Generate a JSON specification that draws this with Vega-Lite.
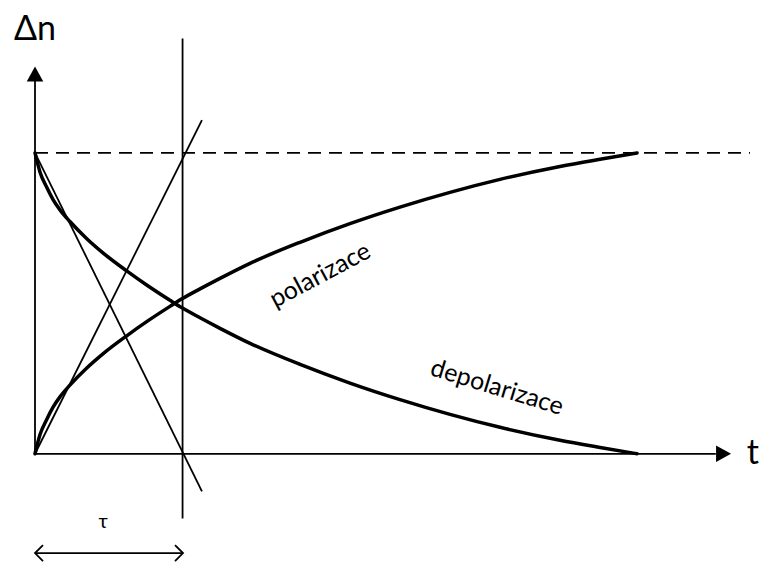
{
  "$schema": "https://vega.github.io/schema/vega-lite/v6.json",
  "width": 763,
  "height": 565,
  "autosize": {"type": "fit", "contains": "padding"},
  "padding": 0,
  "background": "white",
  "config": {"view": {"stroke": null}},
  "datasets": {
    "curves": [
      {"curve": "polarizace", "t": 0.0, "v": 0.0},
      {"curve": "polarizace", "t": 0.034, "v": 0.064},
      {"curve": "polarizace", "t": 0.08, "v": 0.115},
      {"curve": "polarizace", "t": 0.122, "v": 0.155},
      {"curve": "polarizace", "t": 0.17, "v": 0.19},
      {"curve": "polarizace", "t": 0.236, "v": 0.228},
      {"curve": "polarizace", "t": 0.35, "v": 0.285},
      {"curve": "polarizace", "t": 0.459, "v": 0.332},
      {"curve": "polarizace", "t": 0.622, "v": 0.393},
      {"curve": "polarizace", "t": 0.757, "v": 0.44},
      {"curve": "polarizace", "t": 0.912, "v": 0.49},
      {"curve": "polarizace", "t": 0.993, "v": 0.515},
      {"curve": "polarizace", "t": 1.115, "v": 0.548},
      {"curve": "polarizace", "t": 1.25, "v": 0.583},
      {"curve": "polarizace", "t": 1.453, "v": 0.633},
      {"curve": "polarizace", "t": 1.791, "v": 0.703},
      {"curve": "polarizace", "t": 2.128, "v": 0.765},
      {"curve": "polarizace", "t": 2.466, "v": 0.82},
      {"curve": "polarizace", "t": 2.804, "v": 0.869},
      {"curve": "polarizace", "t": 3.142, "v": 0.912},
      {"curve": "polarizace", "t": 3.547, "v": 0.955},
      {"curve": "polarizace", "t": 3.818, "v": 0.979},
      {"curve": "polarizace", "t": 4.068, "v": 1.0},
      {"curve": "depolarizace", "t": 0.0, "v": 1.0},
      {"curve": "depolarizace", "t": 0.034, "v": 0.936},
      {"curve": "depolarizace", "t": 0.08, "v": 0.885},
      {"curve": "depolarizace", "t": 0.122, "v": 0.845},
      {"curve": "depolarizace", "t": 0.17, "v": 0.81},
      {"curve": "depolarizace", "t": 0.236, "v": 0.772},
      {"curve": "depolarizace", "t": 0.35, "v": 0.715},
      {"curve": "depolarizace", "t": 0.459, "v": 0.668},
      {"curve": "depolarizace", "t": 0.622, "v": 0.607},
      {"curve": "depolarizace", "t": 0.757, "v": 0.56},
      {"curve": "depolarizace", "t": 0.912, "v": 0.51},
      {"curve": "depolarizace", "t": 0.993, "v": 0.485},
      {"curve": "depolarizace", "t": 1.115, "v": 0.452},
      {"curve": "depolarizace", "t": 1.25, "v": 0.417},
      {"curve": "depolarizace", "t": 1.453, "v": 0.367},
      {"curve": "depolarizace", "t": 1.791, "v": 0.297},
      {"curve": "depolarizace", "t": 2.128, "v": 0.235},
      {"curve": "depolarizace", "t": 2.466, "v": 0.18},
      {"curve": "depolarizace", "t": 2.804, "v": 0.131},
      {"curve": "depolarizace", "t": 3.142, "v": 0.088},
      {"curve": "depolarizace", "t": 3.547, "v": 0.045},
      {"curve": "depolarizace", "t": 3.818, "v": 0.021},
      {"curve": "depolarizace", "t": 4.068, "v": 0.0}
    ],
    "guides": [
      {"seg": "osa t", "k": 0, "t": 0.0, "v": 0.0},
      {"seg": "osa t", "k": 1, "t": 4.6, "v": 0.0},
      {"seg": "osa n", "k": 0, "t": 0.0, "v": 0.0},
      {"seg": "osa n", "k": 1, "t": 0.0, "v": 1.245},
      {"seg": "tau", "k": 0, "t": 0.997, "v": 1.38},
      {"seg": "tau", "k": 1, "t": 0.997, "v": -0.215},
      {"seg": "tecna pol", "k": 0, "t": 0.0, "v": 0.0},
      {"seg": "tecna pol", "k": 1, "t": 1.128, "v": 1.109},
      {"seg": "tecna depol", "k": 0, "t": 0.0, "v": 1.0},
      {"seg": "tecna depol", "k": 1, "t": 1.128, "v": -0.125},
      {"seg": "interval", "k": 0, "t": 0.0, "v": -0.33},
      {"seg": "interval", "k": 1, "t": 1.0, "v": -0.33}
    ],
    "saturation": [
      {"k": 0, "t": 0.0, "v": 1.0},
      {"k": 1, "t": 4.831, "v": 1.0}
    ],
    "heads": [
      {"head": "up", "t": 0.0, "v": 1.287},
      {"head": "right", "t": 4.703, "v": 0.0}
    ],
    "ends": [
      {"end": "left", "t": 0.0, "v": -0.33},
      {"end": "right", "t": 1.0, "v": -0.33}
    ],
    "labels": [
      {"text": "Δn", "t": 0.0, "v": 1.409, "size": 34, "angle": 0},
      {"text": "t", "t": 4.851, "v": 0.0, "size": 34, "angle": 0},
      {"text": "τ", "t": 0.46, "v": -0.228, "size": 20, "angle": 0},
      {"text": "polarizace", "t": 1.926, "v": 0.594, "size": 25, "angle": -28},
      {"text": "depolarizace", "t": 3.122, "v": 0.221, "size": 25, "angle": 17}
    ]
  },
  "encoding": {
    "x": {"field": "t", "type": "quantitative", "axis": null,
          "scale": {"domain": [-0.2365, 4.9189], "nice": false, "zero": false}},
    "y": {"field": "v", "type": "quantitative", "axis": null,
          "scale": {"domain": [-0.3564, 1.5083], "nice": false, "zero": false}}
  },
  "layer": [
    {
      "data": {"name": "saturation"},
      "mark": {"type": "line", "color": "black", "strokeWidth": 1.6, "strokeDash": [13, 8]},
      "encoding": {"order": {"field": "k", "type": "quantitative"}}
    },
    {
      "data": {"name": "guides"},
      "mark": {"type": "line", "color": "black", "strokeWidth": 1.8},
      "encoding": {
        "detail": {"field": "seg", "type": "nominal"},
        "order": {"field": "k", "type": "quantitative"}
      }
    },
    {
      "data": {"name": "curves"},
      "mark": {"type": "line", "color": "black", "strokeWidth": 3.5, "interpolate": "monotone", "strokeCap": "round"},
      "encoding": {"detail": {"field": "curve", "type": "nominal"}}
    },
    {
      "data": {"name": "heads"},
      "transform": [{"filter": "datum.head === 'up'"}],
      "mark": {"type": "point", "shape": "M0,0L0.55,1L-0.55,1Z", "size": 900, "filled": true, "color": "black", "opacity": 1, "strokeWidth": 0}
    },
    {
      "data": {"name": "heads"},
      "transform": [{"filter": "datum.head === 'right'"}],
      "mark": {"type": "point", "shape": "M0,0L-1,-0.55L-1,0.55Z", "size": 900, "filled": true, "color": "black", "opacity": 1, "strokeWidth": 0}
    },
    {
      "data": {"name": "ends"},
      "transform": [{"filter": "datum.end === 'left'"}],
      "mark": {"type": "point", "shape": "M1,-1L0,0L1,1", "size": 256, "filled": false, "color": "black", "opacity": 1, "strokeWidth": 1.8}
    },
    {
      "data": {"name": "ends"},
      "transform": [{"filter": "datum.end === 'right'"}],
      "mark": {"type": "point", "shape": "M-1,-1L0,0L-1,1", "size": 256, "filled": false, "color": "black", "opacity": 1, "strokeWidth": 1.8}
    },
    {
      "data": {"name": "labels"},
      "mark": {"type": "text", "font": "Lato", "color": "black", "align": "center", "baseline": "middle"},
      "encoding": {
        "text": {"field": "text"},
        "size": {"field": "size", "type": "quantitative", "scale": null},
        "angle": {"field": "angle", "type": "quantitative", "scale": null}
      }
    }
  ]
}
